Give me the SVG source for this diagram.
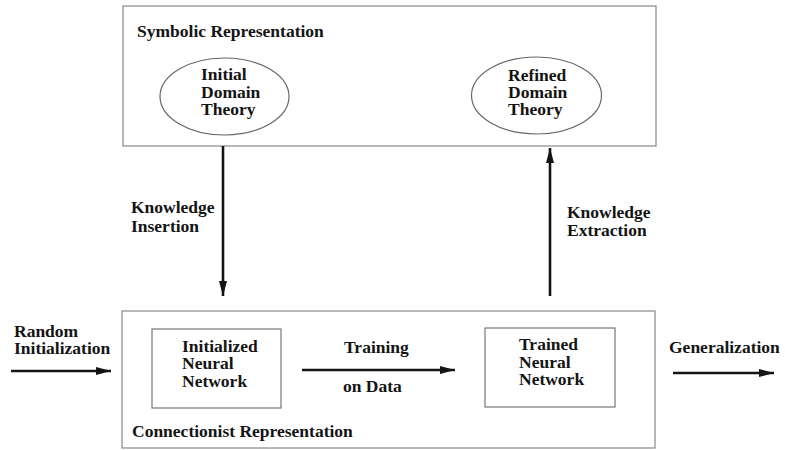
<svg xmlns="http://www.w3.org/2000/svg" width="785" height="450" viewBox="0 0 785 450">
  <style>
    .frame { fill: #fff; stroke: #888; stroke-width: 1.2; }
    .inner { fill: #fff; stroke: #777; stroke-width: 1.2; }
    .oval { fill: #fff; stroke: #666; stroke-width: 1.2; }
    .lbl { font-family: "Liberation Serif", "Times New Roman", serif; font-weight: bold; font-size: 17.5px; fill: #141414; }
    .edge { stroke: #141414; stroke-width: 2.6; fill: none; marker-end: url(#head); }
  </style>
  <defs>
    <marker id="head" markerUnits="userSpaceOnUse" markerWidth="16" markerHeight="10" refX="15" refY="5" orient="auto">
      <path d="M0,1 L15,5 L0,9 Z" fill="#141414"/>
    </marker>
  </defs>
  <rect width="785" height="450" fill="#fff"/>

  <!-- symbolic layer -->
  <g id="symbolic">
    <rect class="frame" x="123" y="6" width="533" height="140"/>
    <text class="lbl" x="137" y="37">Symbolic Representation</text>
  </g>
  <g id="initial-theory">
    <ellipse class="oval" cx="224.5" cy="96.5" rx="64.5" ry="38.5"/>
    <text class="lbl" x="201" y="80">Initial</text>
    <text class="lbl" x="201" y="98">Domain</text>
    <text class="lbl" x="201" y="115">Theory</text>
  </g>
  <g id="refined-theory">
    <ellipse class="oval" cx="536.5" cy="95.5" rx="65" ry="38.5"/>
    <text class="lbl" x="508" y="80.5">Refined</text>
    <text class="lbl" x="508" y="98">Domain</text>
    <text class="lbl" x="508" y="115">Theory</text>
  </g>

  <!-- connectionist layer -->
  <g id="connectionist">
    <rect class="frame" x="122" y="311" width="533" height="137"/>
    <text class="lbl" x="132" y="437">Connectionist Representation</text>
  </g>
  <g id="initialized-network">
    <rect class="inner" x="152" y="329" width="129" height="79"/>
    <text class="lbl" x="182" y="351.5">Initialized</text>
    <text class="lbl" x="182" y="369">Neural</text>
    <text class="lbl" x="182" y="386.5">Network</text>
  </g>
  <g id="trained-network">
    <rect class="inner" x="485" y="328" width="130" height="79"/>
    <text class="lbl" x="519" y="350">Trained</text>
    <text class="lbl" x="519" y="367.5">Neural</text>
    <text class="lbl" x="519" y="385">Network</text>
  </g>

  <!-- connectors -->
  <g id="connectors">
    <line class="edge" x1="223" y1="146" x2="223" y2="296"/>
    <line class="edge" x1="550" y1="296" x2="550" y2="148"/>
    <line class="edge" x1="11" y1="371" x2="111" y2="371"/>
    <line class="edge" x1="302" y1="370" x2="455" y2="370"/>
    <line class="edge" x1="673" y1="373" x2="774" y2="373"/>
    <text class="lbl" x="131" y="213">Knowledge</text>
    <text class="lbl" x="131" y="232">Insertion</text>
    <text class="lbl" x="567" y="218">Knowledge</text>
    <text class="lbl" x="567" y="236">Extraction</text>
    <text class="lbl" x="14" y="336.5">Random</text>
    <text class="lbl" x="14" y="353.5">Initialization</text>
    <text class="lbl" x="344" y="353">Training</text>
    <text class="lbl" x="343" y="391.5">on Data</text>
    <text class="lbl" x="669" y="353">Generalization</text>
  </g>
</svg>
